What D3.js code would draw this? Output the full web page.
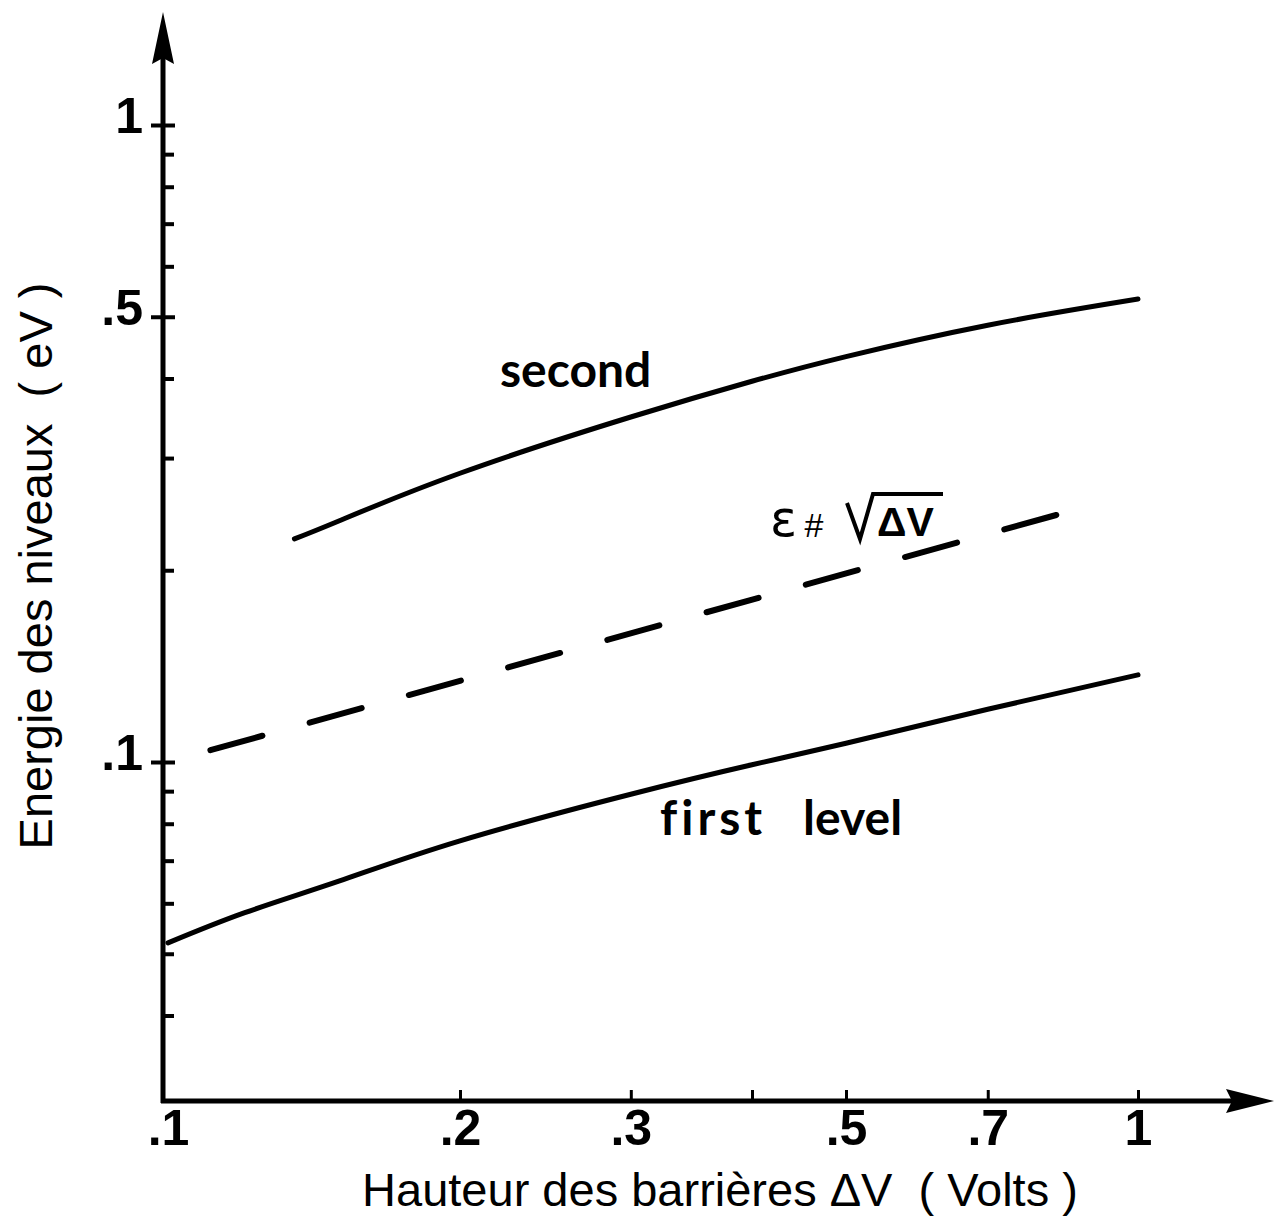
<!DOCTYPE html>
<html>
<head>
<meta charset="utf-8">
<script src="https://cdn.jsdelivr.net/npm/d3@7"></script>
<style>
  body { margin: 0; background: white; }
</style>
</head>
<body>
<div id="my_viz"></div>
<script>
var width = 1274,
    height = 1220;

// barrier height dV (volts) and level energies (eV)
var firstDV = [0.1, 0.12, 0.15, 0.2, 0.3, 0.4, 0.5, 0.7, 1.0];
var firstE = [0.052, 0.058, 0.065, 0.0752, 0.089, 0.099, 0.107, 0.121, 0.137];

var secondDV = [0.135, 0.15, 0.2, 0.3, 0.4, 0.5, 0.7, 1.0];
var secondE = [0.224, 0.239, 0.284, 0.348, 0.396, 0.433, 0.485, 0.533];

// the sqrt(dV) guide line (dashed)
var sqrtDV = [0.1, 0.83];
var sqrtE = [0.1, 0.245];

var xTicks = [0.1, 0.2, 0.3, 0.4, 0.5, 0.7, 1];
var xTickLabels = [".1", ".2", ".3", "", ".5", ".7", "1"];
var yMinorTicks = [0.04, 0.05, 0.06, 0.07, 0.08, 0.09, 0.2, 0.3, 0.4, 0.6, 0.7, 0.8, 0.9];
var yMajorTicks = [0.1, 0.5, 1];
var yTickLabels = [".1", ".5", "1"];

var x = d3.scaleLog().domain([0.1, 1]).range([168, 1138]);
var y = d3.scaleLog().domain([0.1, 1]).range([762, 125]);

var axisX = 163,
    axisY = 1101;

var svg = d3.select("#my_viz")
    .append("svg")
    .attr("width", width)
    .attr("height", height)
    .style("background", "white");

var ink = "#000";

// axis lines with arrow heads
svg.append("path")
    .attr("d", "M" + axisX + "," + (axisY + 2) + "L" + axisX + ",40")
    .attr("stroke", ink).attr("stroke-width", 5).attr("fill", "none");
svg.append("path")
    .attr("d", "M" + (axisX - 2) + "," + axisY + "L1240," + axisY)
    .attr("stroke", ink).attr("stroke-width", 5).attr("fill", "none");
svg.append("path")
    .attr("d", "M" + axisX + ",12L" + (axisX + 11) + ",64L" + axisX + ",58L" + (axisX - 11) + ",64Z")
    .attr("fill", ink);
svg.append("path")
    .attr("d", "M1274," + axisY + "L1226," + (axisY - 12) + "L1232," + axisY + "L1226," + (axisY + 12) + "Z")
    .attr("fill", ink);

// x axis ticks and labels
var gx = svg.append("g")
    .attr("transform", "translate(0," + axisY + ")")
    .call(d3.axisBottom(x)
        .tickValues(xTicks)
        .tickSize(-11)
        .tickPadding(8)
        .tickFormat(function (d, i) { return xTickLabels[i]; }));
gx.select(".domain").remove();
gx.selectAll(".tick line").attr("stroke", ink).attr("stroke-width", 3)
    .attr("y2", function (d) { return d === 0.1 ? 0 : -11; });
gx.selectAll(".tick text")
    .attr("fill", ink)
    .attr("font-family", "'Liberation Sans', Arial, sans-serif")
    .attr("font-weight", "bold")
    .attr("font-size", 50);

// y axis: minor ticks inward, major ticks crossing with labels
var gyMinor = svg.append("g")
    .attr("transform", "translate(" + axisX + ",0)")
    .call(d3.axisRight(y).tickValues(yMinorTicks).tickSize(11).tickFormat(""));
gyMinor.select(".domain").remove();
gyMinor.selectAll(".tick line").attr("stroke", ink).attr("stroke-width", 4);

var gyMajor = svg.append("g")
    .attr("transform", "translate(" + axisX + ",0)")
    .call(d3.axisLeft(y).tickValues(yMajorTicks).tickSize(12).tickPadding(8)
        .tickFormat(function (d, i) { return yTickLabels[i]; }));
gyMajor.select(".domain").remove();
gyMajor.selectAll(".tick line").attr("x2", 12).attr("x1", -12)
    .attr("stroke", ink).attr("stroke-width", 4);
gyMajor.selectAll(".tick text")
    .attr("dy", "0.15em")
    .attr("fill", ink)
    .attr("font-family", "'Liberation Sans', Arial, sans-serif")
    .attr("font-weight", "bold")
    .attr("font-size", 50);

// curves
var line = d3.line()
    .x(function (d) { return x(d[0]); })
    .y(function (d) { return y(d[1]); })
    .curve(d3.curveNatural);

var series = [
    { xs: firstDV, ys: firstE, dash: null, w: 5 },
    { xs: secondDV, ys: secondE, dash: null, w: 5 },
    { xs: sqrtDV, ys: sqrtE, dash: "54 49", w: 6 }
];

svg.append("g").selectAll("path")
    .data(series)
    .enter().append("path")
    .attr("d", function (s) { return line(d3.zip(s.xs, s.ys)); })
    .attr("fill", "none")
    .attr("stroke", ink)
    .attr("stroke-width", function (s) { return s.w; })
    .attr("stroke-linecap", "round")
    .attr("stroke-dasharray", function (s) { return s.dash; })
    .attr("stroke-dashoffset", function (s) { return s.dash ? 59 : null; });

// curve labels
var labelFont = "Lato, 'Open Sans', sans-serif";
svg.append("text").text("second")
    .attr("x", 500).attr("y", 387)
    .attr("font-family", labelFont).attr("font-weight", "bold").attr("font-size", 48);
svg.append("text").text("first")
    .attr("x", 660).attr("y", 835)
    .attr("letter-spacing", 4)
    .attr("font-family", labelFont).attr("font-weight", "bold").attr("font-size", 48);
svg.append("text").text("level")
    .attr("x", 803).attr("y", 835)
    .attr("font-family", labelFont).attr("font-weight", "bold").attr("font-size", 48);

// epsilon # sqrt(dV)
svg.append("text").text("ε")
    .attr("x", 770).attr("y", 536)
    .attr("font-family", "'DejaVu Sans', sans-serif").attr("font-size", 50);
svg.append("text").text("#")
    .attr("x", 804).attr("y", 537)
    .attr("font-style", "italic")
    .attr("font-family", "'Liberation Sans', sans-serif").attr("font-size", 34);
svg.append("path")
    .attr("d", "M847,503L860,539L873,494L943,494")
    .attr("fill", "none").attr("stroke", ink).attr("stroke-width", 4)
    .attr("stroke-linejoin", "miter");
svg.append("text").text("ΔV")
    .attr("x", 877).attr("y", 536)
    .attr("font-family", "'Liberation Sans', sans-serif").attr("font-weight", "bold")
    .attr("font-size", 41);

// axis titles
svg.append("text")
    .text("Hauteur des barrières ΔV  ( Volts )")
    .style("white-space", "pre")
    .attr("x", 720).attr("y", 1206)
    .attr("text-anchor", "middle")
    .attr("font-family", "'Liberation Sans', Arial, sans-serif")
    .attr("font-size", 47);

svg.append("text")
    .text("Energie des niveaux  ( eV )")
    .style("white-space", "pre")
    .attr("transform", "translate(52,566) rotate(-90)")
    .attr("text-anchor", "middle")
    .attr("font-family", "'Liberation Sans', Arial, sans-serif")
    .attr("font-size", 47);
</script>
</body>
</html>
